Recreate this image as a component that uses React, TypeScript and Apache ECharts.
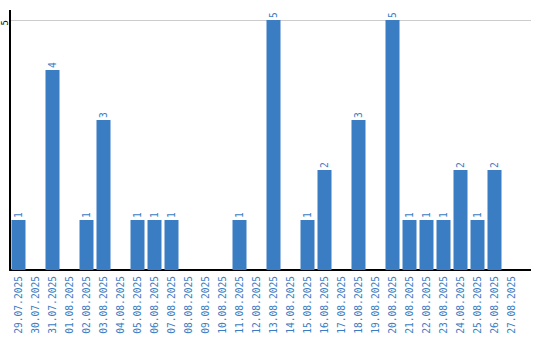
import React, { useEffect, useRef } from "react";
import * as echarts from "echarts";

const categories = [
  "29.07.2025", "30.07.2025", "31.07.2025", "01.08.2025", "02.08.2025", "03.08.2025",
  "04.08.2025", "05.08.2025", "06.08.2025", "07.08.2025", "08.08.2025", "09.08.2025",
  "10.08.2025", "11.08.2025", "12.08.2025", "13.08.2025", "14.08.2025", "15.08.2025",
  "16.08.2025", "17.08.2025", "18.08.2025", "19.08.2025", "20.08.2025", "21.08.2025",
  "22.08.2025", "23.08.2025", "24.08.2025", "25.08.2025", "26.08.2025", "27.08.2025",
];
const values = [1, 0, 4, 0, 1, 3, 0, 1, 1, 1, 0, 0, 0, 1, 0, 5, 0, 1, 2, 0, 3, 0, 5, 1, 1, 1, 2, 1, 2, 0];
const yMax = 5;

const FONT = "DejaVu Sans Mono";
const BLUE = "#3b7dc3";

export default function App() {
  const ref = useRef<HTMLDivElement>(null);
  useEffect(() => {
    if (!ref.current) return;
    const chart = echarts.init(ref.current, undefined, { renderer: "svg" });
    chart.setOption({
      animation: false,
      grid: { left: 10, top: 20, width: 510, height: 250, containLabel: false, outerBoundsMode: "none" },
      graphic: [
        { type: "line", shape: { x1: 520, y1: 270, x2: 531, y2: 270 }, style: { stroke: "#000", lineWidth: 2 }, z: 10 },
        { type: "line", shape: { x1: 520, y1: 20.5, x2: 531, y2: 20.5 }, style: { stroke: "#cccccc", lineWidth: 1 } },
        { type: "line", shape: { x1: 10, y1: 10, x2: 10, y2: 21 }, style: { stroke: "#000", lineWidth: 2 }, z: 10 },
      ],
      xAxis: {
        type: "category",
        data: categories,
        axisLine: { show: true, lineStyle: { color: "#000", width: 2 } },
        axisTick: { show: false },
        axisLabel: {
          rotate: 90,
          interval: 0,
          color: BLUE,
          fontFamily: FONT,
          fontSize: 9.6,
          margin: 6,
        },
      },
      yAxis: {
        type: "value",
        min: 0,
        max: yMax,
        interval: yMax,
        splitLine: { show: true, lineStyle: { color: "#cccccc", width: 1 } },
        axisTick: { show: false },
        axisLine: { show: true, lineStyle: { color: "#000", width: 2 } },
        axisLabel: {
          show: true,
          rotate: 90,
          color: "#000",
          fontFamily: FONT,
          fontSize: 9,
          margin: 5,
          align: "right",
          verticalAlign: "middle",
          showMinLabel: true,
          showMaxLabel: true,
          hideOverlap: false,
          formatter: (v: number) => (v === 0 ? "" : String(v)),
        },
      },
      series: [
        {
          type: "bar",
          data: values.map((v) => (v === 0 ? null : v)),
          barWidth: 14,
          itemStyle: { color: BLUE },
          label: {
            show: true,
            position: "top",
            rotate: 90,
            align: "left",
            verticalAlign: "middle",
            distance: 2,
            color: BLUE,
            fontFamily: FONT,
            fontSize: 9.6,
          },
        },
      ],
    });
    return () => chart.dispose();
  }, []);
  return <div ref={ref} style={{ position: "absolute", left: 0, top: 0, width: 540, height: 340 }} />;
}
